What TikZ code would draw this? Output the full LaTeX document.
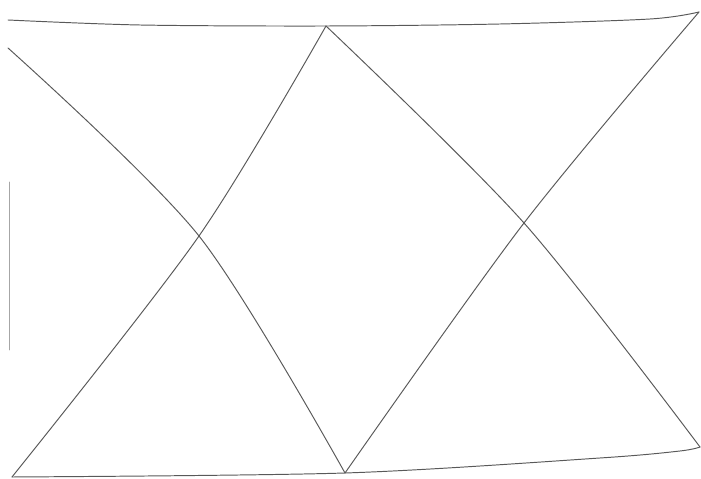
\documentclass[tikz,border=0pt]{standalone}
\usepackage{tikz}

\begin{document}
\begin{tikzpicture}[x=0.02cm,y=-0.02cm,
    pencil/.style={draw=black!65,line width=0.55pt,line cap=round,line join=round}]
            \useasboundingbox (0,0) rectangle (701,479);

            % corners and apexes
            \coordinate (tl) at (8,20);
            \coordinate (top) at (326,26);
            \coordinate (tr) at (699,12);
            \coordinate (bl) at (12,477);
            \coordinate (bot) at (345,473);
            \coordinate (br) at (700,447);
            \coordinate (ls) at (8,48);

            % crossings
            \coordinate (xl) at (199,236);
            \coordinate (xr) at (524,223);

            % frame
            \draw[pencil] plot[smooth] coordinates {(tl) (140,25) (top) (500,24) (650,19) (tr)};
            \draw[pencil] plot[smooth] coordinates {(bl) (bot) (600,458) (680,451) (br)};
            \draw[pencil,draw=black!35] (9,182) -- (9,350);

            % diagonals
            \draw[pencil] plot[smooth] coordinates {(ls) (xl) (bot)};
            \draw[pencil] plot[smooth] coordinates {(top) (xl) (bl)};
            \draw[pencil] plot[smooth] coordinates {(top) (xr) (br)};
            \draw[pencil] plot[smooth] coordinates {(tr) (xr) (bot)};
        \end{tikzpicture}
\end{document}
